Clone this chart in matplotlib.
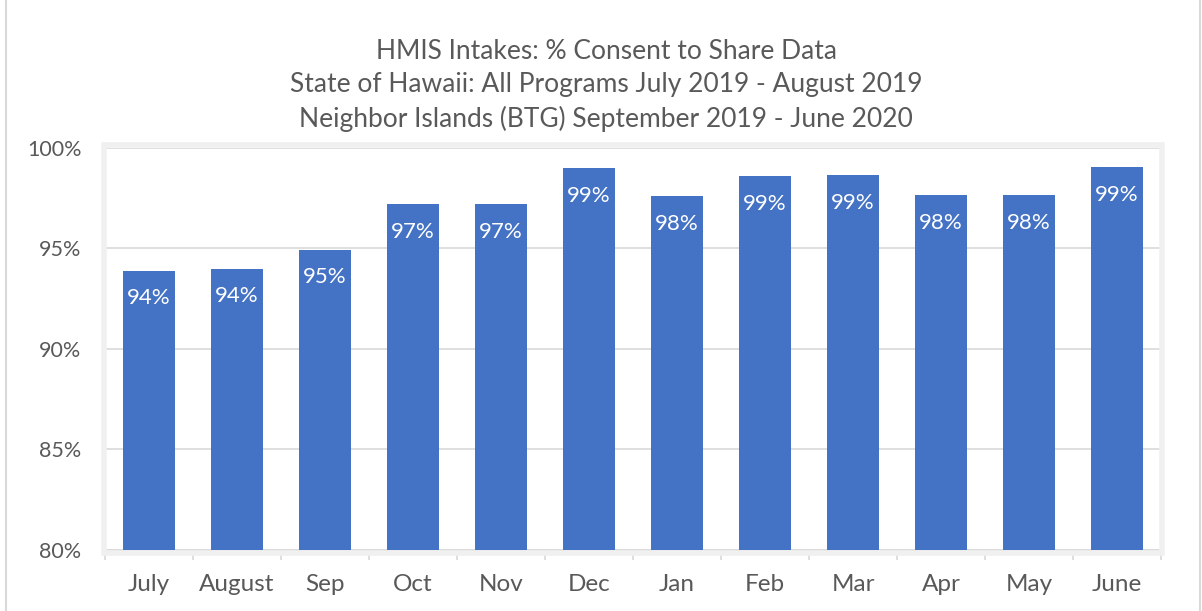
import matplotlib
matplotlib.use("Agg")
import matplotlib.pyplot as plt
from matplotlib.patches import Rectangle
from matplotlib.ticker import FuncFormatter, FixedLocator, NullFormatter

plt.rcParams['font.family'] = ['Lato', 'DejaVu Sans']

months = ["July", "August", "Sep", "Oct", "Nov", "Dec", "Jan", "Feb", "Mar", "Apr", "May", "June"]
consent = [93.9, 94.0, 94.95, 97.2, 97.2, 99.0, 97.6, 98.6, 98.65, 97.65, 97.65, 99.05]
yticks = [80, 85, 90, 95, 100]
title = ("HMIS Intakes: % Consent to Share Data\n"
         "State of Hawaii: All Programs July 2019 - August 2019\n"
         "Neighbor Islands (BTG) September 2019 - June 2020")

W, H = 1202, 611
fig = plt.figure(figsize=(W / 100, H / 100), dpi=100)
ax = fig.add_axes([105 / W, (H - 550) / H, 1056 / W, 402 / H])

x = list(range(len(months)))
bars = ax.bar(x, consent, width=0.58, color="#4472C4", zorder=3)
for b, v in zip(bars, consent):
    ax.annotate(f"{round(v):.0f}%", (b.get_x() + b.get_width() / 2, v),
                xytext=(0, -20), textcoords="offset points", ha="center", va="center",
                color="white", fontsize=16, zorder=4)

ax.set_xlim(-0.5, len(months) - 0.5)
ax.set_ylim(80, 100)
ax.set_yticks(yticks)
ax.yaxis.set_major_formatter(FuncFormatter(lambda v, p: f"{v:.0f}%"))
ax.tick_params(axis="y", length=0, labelsize=15.5, labelcolor="#595959", pad=17)
ax.set_xticks(x)
ax.set_xticklabels(months)
ax.tick_params(axis="x", which="major", length=0, labelsize=17.5, labelcolor="#595959", pad=17)
ax.xaxis.set_minor_locator(FixedLocator([i - 0.5 for i in range(len(months) + 1)]))
ax.xaxis.set_minor_formatter(NullFormatter())
ax.tick_params(axis="x", which="minor", length=7, width=1.2, color="#d9d9d9", direction="out")
ax.grid(axis="y", color="#d9d9d9", linewidth=1.2, zorder=0)
for s in ["top", "right", "left"]:
    ax.spines[s].set_visible(False)
ax.spines["bottom"].set_color("#d9d9d9")
ax.spines["bottom"].set_linewidth(1.2)

# light plot-area frame
fig.patches.append(Rectangle((104 / W, (H - 553) / H), 1058 / W, 408 / H, transform=fig.transFigure,
                             fill=False, edgecolor="#f0f0f0", linewidth=4, zorder=0))
# outer chart border
fig.patches.append(Rectangle((6 / W, -0.01), (W - 8) / W, 1.02, transform=fig.transFigure,
                             fill=False, edgecolor="#d9d9d9", linewidth=1.5, zorder=0))

fig.text(606 / W, 1 - 85.5 / H, title, ha="center", va="center", fontsize=19,
         color="#595959", linespacing=1.43)

fig.savefig("out.png", dpi=100)
